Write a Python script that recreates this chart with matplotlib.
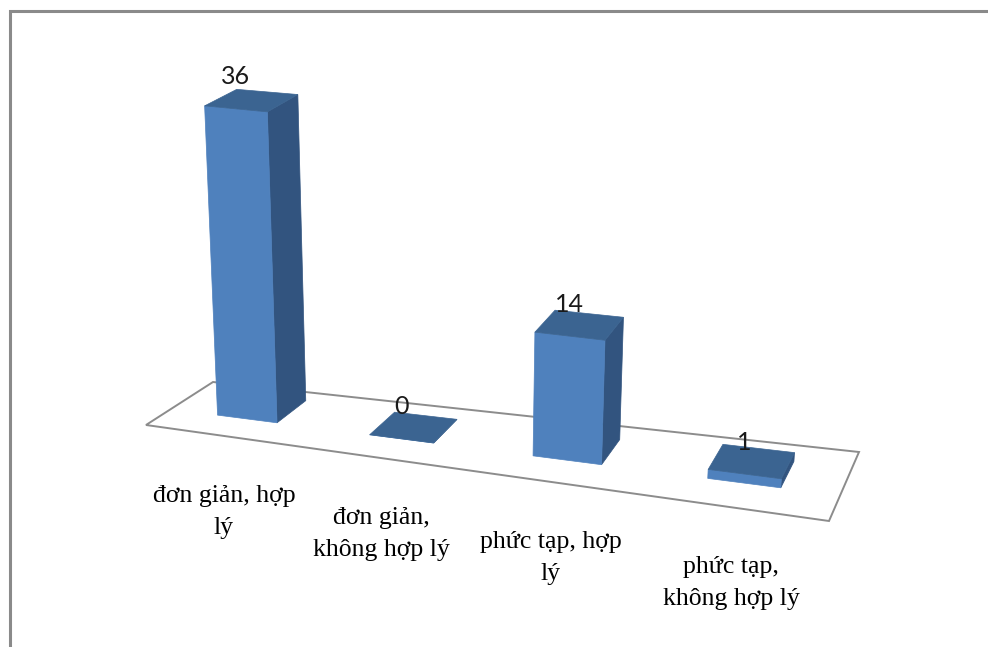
import numpy as np
import matplotlib
matplotlib.use('Agg')
import matplotlib.pyplot as plt
from matplotlib.patches import Polygon

categories = ['đơn giản, hợp\nlý', 'đơn giản,\nkhông hợp lý',
              'phức tạp, hợp\nlý', 'phức tạp,\nkhông hợp lý']
values = [36, 0, 14, 1]

FRONT = '#4f81bd'
SIDE = '#32547f'
TOP = '#3b6491'
GRID = '#8c8c8c'
FRAME = '#8a8a8a'

# floor corners on the canvas
front_left = np.array([146.0, 425.0])
front_right = np.array([829.0, 521.0])
back_right = np.array([859.0, 452.0])
back_left = np.array([213.0, 382.0])

bar_width = 0.40
depth_lo = 0.37


def depth_hi(i):
    # the bars look shallower towards the right of the floor
    return 0.84 - 0.025*i


def project(u, v, value=0):
    """Canvas position of a point above the floor, value in data units."""
    t = u/len(categories)
    s = 0.135*t*t + 0.86*t + 0.005*(1 - t)  # categories get wider towards the viewer
    near = front_left + (front_right - front_left)*s
    far = back_left + (back_right - back_left)*s
    x, y = near + (far - near)*v
    per_unit = 8.65 + 0.006*(y - 425)
    h = value*per_unit
    return x + (x - 450)*0.00018*h, y - h


fig = plt.figure(figsize=(9.88, 6.47), dpi=100)
ax = fig.add_axes([0, 0, 1, 1])
ax.set_xlim(0, 988)
ax.set_ylim(647, 0)
ax.axis('off')

# chart frame, only the top and left edges are visible
ax.plot([10, 10, 988], [647, 11.3, 11.3], color=FRAME, lw=2.2, solid_joinstyle='miter')

floor = [front_left, front_right, back_right, back_left]
ax.add_patch(Polygon(floor, closed=True, fill=False, edgecolor=GRID, lw=1.4, zorder=1))

for i, (label, val) in enumerate(zip(categories, values)):
    u0 = i + 0.5 - bar_width/2
    u1 = i + 0.5 + bar_width/2
    hi = depth_hi(i)
    side = [project(u1, depth_lo), project(u1, hi),
            project(u1, hi, val), project(u1, depth_lo, val)]
    top = [project(u0, depth_lo, val), project(u1, depth_lo, val),
           project(u1, hi, val), project(u0, hi, val)]
    front = [project(u0, depth_lo), project(u1, depth_lo),
             project(u1, depth_lo, val), project(u0, depth_lo, val)]
    ax.add_patch(Polygon(side, closed=True, facecolor=SIDE, edgecolor=SIDE, lw=0.5, zorder=2))
    ax.add_patch(Polygon(front, closed=True, facecolor=FRONT, edgecolor=FRONT, lw=0.5, zorder=2))
    ax.add_patch(Polygon(top, closed=True, facecolor=TOP, edgecolor=TOP, lw=0.5, zorder=2))

    # value sits above the front edge of the bar top
    tx, ty = project(i + 0.5, depth_lo, val)
    ax.text(tx, ty - 32, str(val), ha='center', va='center', fontsize=18,
            family='Lato', color='#1a1a1a', zorder=3)

    # category label hangs below the front floor edge
    lx, ly = project(i + 0.5, 0)
    ax.text(lx, ly + 76, label, ha='center', va='center', fontsize=18.5,
            family='Liberation Serif', color='black', linespacing=1.6, zorder=3)

fig.savefig('out.png', dpi=100, facecolor='white')
